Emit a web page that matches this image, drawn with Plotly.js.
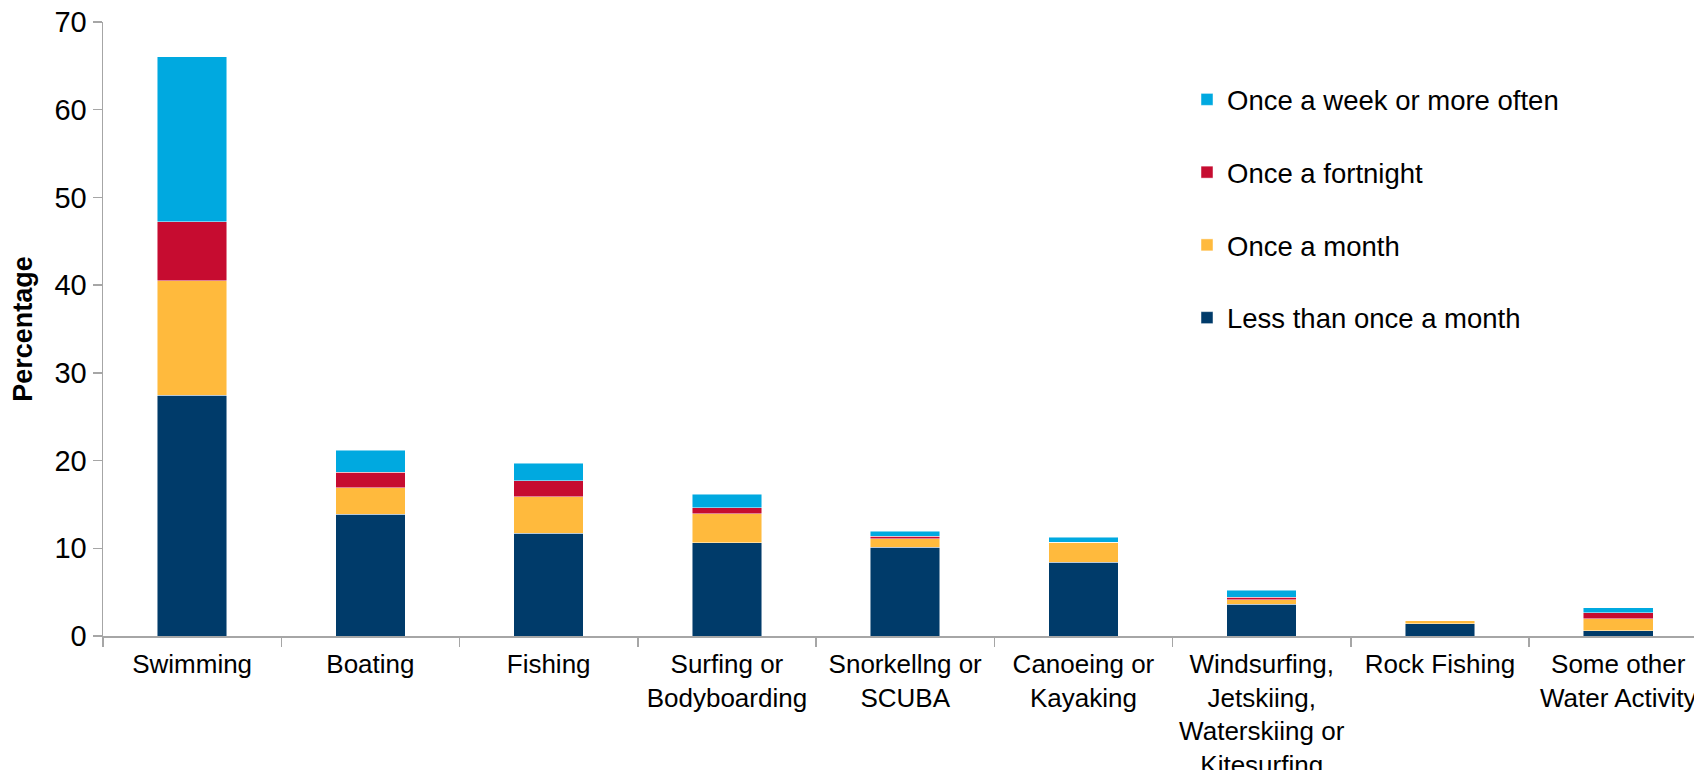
<!DOCTYPE html>
<html>
<head>
<meta charset="utf-8">
<script src="https://cdn.plot.ly/plotly-3.0.1.min.js"></script>
<style>html,body{margin:0;padding:0;background:#fff;}#chart{width:1694px;height:770px;}</style>
</head>
<body>
<div id="chart"></div>
<script>
const categories = ['Swimming','Boating','Fishing','Surfing or<br>Bodyboarding','Snorkellng or<br>SCUBA','Canoeing or<br>Kayaking','Windsurfing,<br>Jetskiing,<br>Waterskiing or<br>Kitesurfing','Rock Fishing','Some other<br>Water Activity'];
const lessThanMonth = [27.45, 13.9, 11.7, 10.65, 10.1, 8.4, 3.6, 1.4, 0.6];
const onceMonth     = [13.05, 3.0, 4.2, 3.3, 1.0, 2.3, 0.55, 0.35, 1.35];
const onceFortnight = [6.7, 1.75, 1.8, 0.7, 0.3, 0, 0.25, 0, 0.7];
const onceWeek      = [18.85, 2.5, 2.0, 1.5, 0.55, 0.55, 0.8, 0, 0.55];
const seriesNames = ['Less than once a month','Once a month','Once a fortnight','Once a week or more often'];
const seriesColors = ['#003B6A','#FFBA3D','#C60C30','#00A9E0'];
const seriesValues = [lessThanMonth, onceMonth, onceFortnight, onceWeek];

const traces = seriesValues.map((vals, i) => ({
  type: 'bar',
  name: seriesNames[i],
  x: categories,
  y: vals,
  width: 0.39,
  legendgroup: 'g' + i,
  legendrank: 1000 - i,
  marker: {color: seriesColors[i], line: {width: 0.8, color: 'rgba(255,255,255,0.6)'}},
  hoverinfo: 'name+y'
}));

const font = {family: '"Liberation Sans", Arial, sans-serif', color: '#000'};
const layout = {
  width: 1694, height: 770,
  barmode: 'stack',
  paper_bgcolor: '#fff', plot_bgcolor: '#fff',
  margin: {l: 103, r: 0, t: 22, b: 134, autoexpand: false},
  font: Object.assign({size: 26}, font),
  showlegend: true,
  legend: {
    traceorder: 'grouped',
    tracegroupgap: 34,
    xref: 'container', yref: 'container',
    x: 1187/1694, y: 1 - 75/770,
    xanchor: 'left', yanchor: 'top',
    font: Object.assign({size: 27.5}, font),
    bgcolor: 'rgba(0,0,0,0)'
  },
  xaxis: {
    type: 'category',
    range: [-0.5, 8.425],
    showline: true, linecolor: '#A6A6A6', linewidth: 1.5,
    ticks: 'outside', tickson: 'boundaries', ticklen: 9, tickcolor: '#A6A6A6', tickwidth: 1.5,
    showgrid: false, zeroline: false,
    tickfont: Object.assign({size: 26}, font),
    ticklabelstandoff: 4,
    tickangle: 0, automargin: false
  },
  yaxis: {
    range: [0, 70], dtick: 10,
    showline: true, linecolor: '#A6A6A6', linewidth: 1.5,
    ticks: 'outside', ticklen: 9, tickcolor: '#A6A6A6', tickwidth: 1.5,
    showgrid: false, zeroline: false,
    tickfont: Object.assign({size: 29}, font),
    title: {text: '<b>Percentage</b>', font: Object.assign({size: 27}, font), standoff: 14},
    automargin: false
  }
};

Plotly.newPlot('chart', traces, layout, {displayModeBar: false, staticPlot: true});
</script>
</body>
</html>
